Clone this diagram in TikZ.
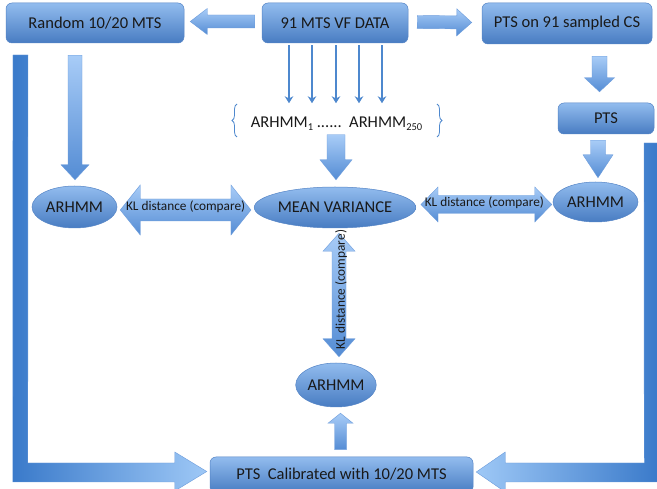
\documentclass[tikz,border=0pt]{standalone}
\usepackage{fontspec}
\setmainfont{Carlito}
\usetikzlibrary{calc,shapes.geometric,decorations.pathreplacing,arrows.meta}

\definecolor{bxtop}{RGB}{146,188,238}
\definecolor{bxbot}{RGB}{72,124,194}
\definecolor{bxline}{RGB}{84,132,198}
\definecolor{artop}{RGB}{168,204,247}
\definecolor{arbot}{RGB}{84,140,212}
\definecolor{arline}{RGB}{108,156,220}
\definecolor{ldark}{RGB}{58,122,202}
\definecolor{llight}{RGB}{158,200,246}
\definecolor{thinblue}{RGB}{78,136,206}

\newcommand\mysub[1]{\raisebox{-0.35ex}{\fontsize{10.5}{11}\selectfont #1}}

\tikzset{
  lbl/.style={font=\fontsize{16.5}{19}\selectfont, text=black!90},
  kl/.style={font=\fontsize{13.3}{15}\selectfont, text=black!90},
  box/.style={rectangle, rounded corners=6pt, top color=bxtop, bottom color=bxbot,
    draw=bxline, line width=0.5pt, inner sep=0pt, lbl},
  oval/.style={ellipse, top color=bxtop, bottom color=bxbot,
    draw=bxline, line width=0.5pt, inner sep=0pt, lbl},
  blk/.style={top color=artop, bottom color=arbot, draw=arline, line width=0.4pt},
  thinarr/.style={draw=thinblue, line width=1.5pt, -{Stealth[length=7pt,width=8.5pt]}},
  bracestyle/.style={draw=thinblue, line width=0.8pt,
    decorate, decoration={brace, amplitude=5pt}},
  barrow/.style n args={3}{to path={
    let \p1=(\tikztostart), \p2=(\tikztotarget),
        \n1={atan2(\y2-\y1,\x2-\x1)}, \n2={veclen(\x2-\x1,\y2-\y1)} in
    ([shift={(\p1)},rotate=\n1]0pt,#1)
    -- ([shift={(\p1)},rotate=\n1]{\n2-#3},#1)
    -- ([shift={(\p1)},rotate=\n1]{\n2-#3},#2)
    -- ([shift={(\p1)},rotate=\n1]\n2,0pt)
    -- ([shift={(\p1)},rotate=\n1]{\n2-#3},-#2)
    -- ([shift={(\p1)},rotate=\n1]{\n2-#3},-#1)
    -- ([shift={(\p1)},rotate=\n1]0pt,-#1) -- cycle}},
  dbarrow/.style n args={3}{to path={
    let \p1=(\tikztostart), \p2=(\tikztotarget),
        \n1={atan2(\y2-\y1,\x2-\x1)}, \n2={veclen(\x2-\x1,\y2-\y1)} in
    ([shift={(\p1)},rotate=\n1]#3,#1)
    -- ([shift={(\p1)},rotate=\n1]{\n2-#3},#1)
    -- ([shift={(\p1)},rotate=\n1]{\n2-#3},#2)
    -- ([shift={(\p1)},rotate=\n1]\n2,0pt)
    -- ([shift={(\p1)},rotate=\n1]{\n2-#3},-#2)
    -- ([shift={(\p1)},rotate=\n1]{\n2-#3},-#1)
    -- ([shift={(\p1)},rotate=\n1]#3,-#1)
    -- ([shift={(\p1)},rotate=\n1]#3,-#2)
    -- ([shift={(\p1)},rotate=\n1]0pt,0pt)
    -- ([shift={(\p1)},rotate=\n1]#3,#2) -- cycle}}
}

\begin{document}
\begin{tikzpicture}[x=1pt,y=-1pt]
\useasboundingbox[fill=white] (0,0) rectangle (657,489);

% nodes
\node[box, minimum width=178pt, minimum height=40pt] (rand) at (95,23) {Random 10/20 MTS};
\node[box, minimum width=146pt, minimum height=40pt] (data) at (335,23) {91 MTS VF DATA};
\node[box, minimum width=170pt, minimum height=41pt] (ptscs) at (567,23.5) {PTS on 91 sampled CS};
\node[box, minimum width=96pt, minimum height=31pt] (pts) at (606,118.5) {PTS};
\node[oval, minimum width=85pt, minimum height=42pt] (arhL) at (74.5,207) {ARHMM};
\node[oval, minimum width=154pt, minimum height=41pt] (mv) at (335,207.5) {MEAN VARIANCE};
\node[oval, minimum width=85pt, minimum height=40pt] (arhR) at (595.5,202) {ARHMM};
\node[oval, minimum width=78pt, minimum height=44pt] (arhB) at (336,385) {ARHMM};
\node[box, minimum width=263pt, minimum height=36pt] (cal) at (341.5,475)
  {\raisebox{2pt}{PTS\ \ Calibrated with 10/20 MTS}};
\node[lbl, anchor=base] (ens) at (336.5,127.5)
  {ARHMM\mysub{1} ......\ \ ARHMM\mysub{250}};

% braces
\draw[bracestyle] (237,137) -- (237,104);
\draw[bracestyle] (437,104) -- (437,137);

% thin arrows
\foreach \dx in {-46,-23,1,24,47}
  \draw[thinarr] ($(data.south)+(\dx,2)$) -- ($(data.south)+(\dx,60)$);

% block arrows
\path[blk] ($(data.west)+(-7,-1.5)$) to[barrow={6.5pt}{13pt}{17pt}] ($(rand.east)+(6,-1.5)$);
\path[blk] ($(data.east)+(9,-1)$) to[barrow={6.5pt}{13.5pt}{15pt}] ($(ptscs.west)+(-10,-1)$);
\path[blk] ($(ptscs.south)+(32.5,12)$) to[barrow={7.5pt}{15pt}{14pt}] ($(pts.north)+(-6.5,-11)$);
\path[blk] ($(pts.south)+(-8,6)$) to[barrow={7.5pt}{15pt}{23pt}] ($(arhR.north)+(2.5,-4)$);
\path[blk] ($(rand.south)+(-20,12)$) to[barrow={7pt}{14pt}{15pt}] ($(arhL.north)+(0.5,-6)$);
\path[blk] ($(mv.north)+(1,-52)$) to[barrow={9pt}{16pt}{20pt}] ($(mv.north)+(1,-7)$);
\path[blk] ($(cal.north)+(-1,-7)$) to[barrow={6pt}{12.5pt}{10pt}] ($(arhB.south)+(4.5,6)$);

% double arrows
\path[blk] ($(arhL.east)+(3,3)$) to[dbarrow={11pt}{25pt}{20pt}] ($(mv.west)+(-3,2.5)$);
\path[blk] ($(mv.east)+(5,-3)$) to[dbarrow={9pt}{17.5pt}{17pt}] ($(arhR.west)+(-1,2.5)$);
\path[blk] ($(mv.south)+(4,5)$) to[dbarrow={7pt}{16pt}{18pt}] ($(arhB.north)+(3,-6)$);

\node[kl] (klL) at ($(arhL.east)!0.5!(mv.west)+(0,-1)$) {KL distance (compare)};
\node[kl] (klR) at ($(mv.east)!0.5!(arhR.west)+(0,-2)$) {KL distance (compare)};
\node[kl, rotate=90] (klV) at ($(mv.south)!0.5!(arhB.north)+(5.5,-6)$) {KL distance (compare)};

% L-shaped arrows
\coordinate (lt) at ($(cal.west)+(-3,-3.5)$);
\path[left color=ldark, right color=llight, draw=arline, line width=0.4pt]
  (13,55) -- (28,55) -- ($(lt)+(-179,-8.5)$) -- ($(lt)+(-32,-8.5)$) -- ($(lt)+(-32,-19.5)$)
  -- (lt) -- ($(lt)+(-32,19.5)$) -- ($(lt)+(-32,10.5)$) -- ($(lt)+(-194,10.5)$) -- cycle;
\coordinate (rt) at ($(cal.east)+(3,-3)$);
\path[left color=llight, right color=ldark, draw=arline, line width=0.4pt]
  (658,143) -- (644,143) -- ($(rt)+(168,-9)$) -- ($(rt)+(29,-9)$) -- ($(rt)+(29,-20)$)
  -- (rt) -- ($(rt)+(29,20)$) -- ($(rt)+(29,10)$) -- ($(rt)+(182,10)$) -- cycle;
\end{tikzpicture}
\end{document}
